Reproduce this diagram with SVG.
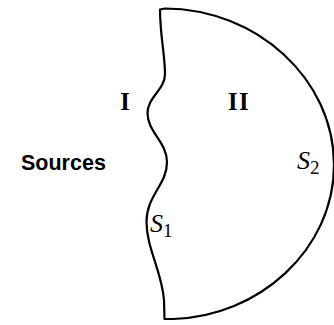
<svg xmlns="http://www.w3.org/2000/svg" width="334" height="325" viewBox="0 0 334 325">
<style>
.edge{fill:none;stroke:#000;stroke-width:2.2;stroke-linejoin:round;stroke-linecap:round}
.roman{font-family:"Liberation Serif","Times New Roman",serif;font-weight:bold;font-size:24.5px;fill:#000}
.math{font-family:"Liberation Serif","Times New Roman",serif;font-style:italic;font-size:26px;fill:#000}
.sub{font-family:"Liberation Serif","Times New Roman",serif;font-size:19px;fill:#000}
.lbl{font-family:"Liberation Sans",Arial,sans-serif;font-weight:bold;font-size:21.5px;fill:#000}
</style>
<rect width="334" height="325" fill="#fff"/>
<g id="region-boundary">
<path class="edge" d="M160,9.5 L165,8.5 C257,9 334,79 334,165 C334,250 258,317 173,319 L164.5,319 L164,300 C162,272 146.5,248 146.5,222 C146.5,195 167,185 167,162 C167,142 147.5,132 147.5,113 C147.5,97 165,90 165,74 C165,55 160,35 160,9.5 Z"/>
</g>
<g id="region-I"><text class="roman" x="125" y="109.5" text-anchor="middle">I</text></g>
<g id="region-II"><text class="roman" x="228" y="109.5">I<tspan x="239">I</tspan></text></g>
<g id="sources"><text class="lbl" x="21" y="170">Sources</text></g>
<g id="S2"><text x="297" y="168.5"><tspan class="math">S</tspan><tspan class="sub" dy="5">2</tspan></text></g>
<g id="S1"><text x="150" y="231.5"><tspan class="math">S</tspan><tspan class="sub" dy="5">1</tspan></text></g>
</svg>
